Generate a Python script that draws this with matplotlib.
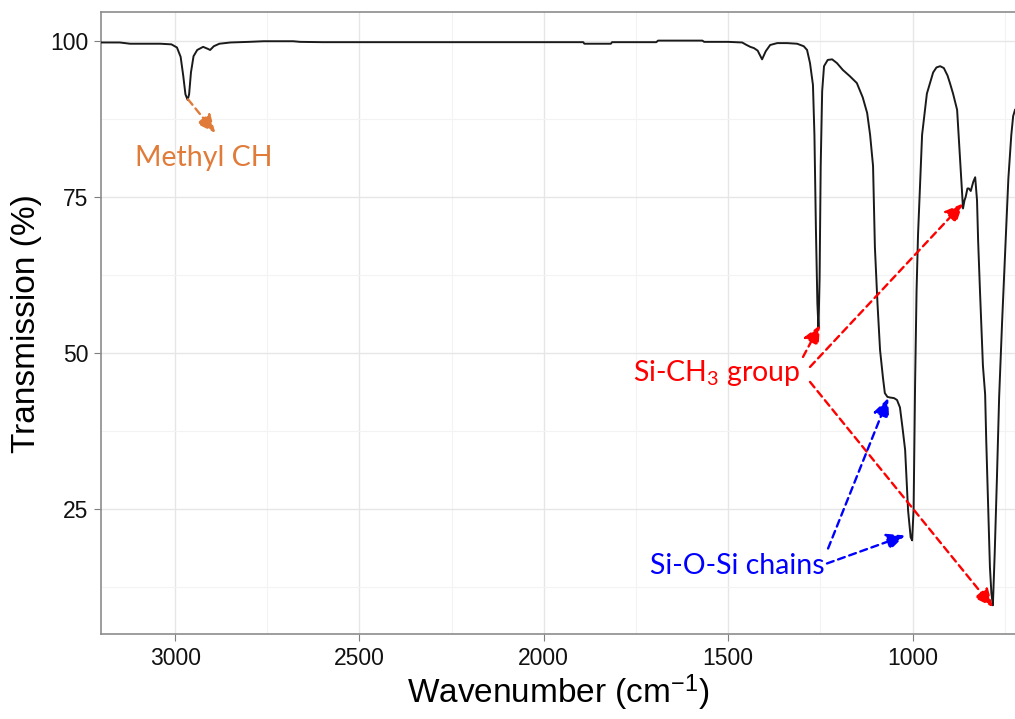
import matplotlib
matplotlib.use("Agg")
import matplotlib.pyplot as plt
from matplotlib.ticker import MultipleLocator

# FTIR spectrum
wavenumber = [3201, 3150, 3122, 3080, 3040, 3010, 2995, 2985, 2978, 2972, 2966,
              2962, 2957, 2950, 2940, 2924, 2912, 2905, 2895, 2880, 2850, 2800,
              2760, 2680, 2661, 2600, 2400, 2200, 2000, 1893, 1890, 1818, 1815,
              1760, 1695, 1690, 1570, 1565, 1500, 1462, 1450, 1440, 1430, 1420,
              1408, 1398, 1386, 1367, 1340, 1313, 1295, 1286, 1278, 1270, 1266,
              1262, 1258, 1255, 1252, 1249, 1245, 1240, 1230, 1218, 1205, 1189,
              1170, 1151, 1135, 1123, 1115, 1107, 1102, 1095, 1088, 1080, 1075,
              1068, 1061, 1050, 1042, 1034, 1027, 1020, 1012, 1005, 1001, 997,
              993, 989, 985, 974, 961, 944, 935, 925, 915, 905, 898, 890, 879,
              872, 866, 863, 859, 856, 851, 847, 842, 835, 830, 825, 822, 817,
              809, 803, 800, 796, 790, 786, 782, 777, 771, 765, 757, 749, 740,
              732, 727, 722]
transmission = [99.8, 99.8, 99.6, 99.6, 99.6, 99.5, 99.0, 97.5, 94.5, 91.5, 90.6,
                91.5, 95.0, 97.6, 98.6, 99.1, 98.8, 98.6, 99.2, 99.6, 99.8, 99.9,
                100.0, 100.0, 99.9, 99.85, 99.85, 99.85, 99.85, 99.85, 99.6, 99.6, 99.85,
                99.85, 99.85, 100.1, 100.1, 99.9, 99.9, 99.8, 99.4, 99.1, 98.9, 98.5,
                97.1, 98.4, 99.4, 99.7, 99.7, 99.6, 99.2, 98.6, 96.5, 93.0, 85.0,
                70.0, 58.0, 54.0, 62.0, 80.0, 92.0, 96.0, 97.0, 97.1, 96.5, 95.4,
                94.4, 93.3, 91.0, 88.5, 85.0, 80.0, 67.0, 58.0, 50.5, 46.0, 43.6,
                43.0, 42.9, 42.8, 42.5, 41.3, 38.0, 34.5, 24.8, 20.5, 20.0, 25.0,
                45.0, 60.0, 69.0, 85.0, 91.6, 95.0, 95.8, 96.0, 95.7, 94.5, 93.2,
                91.6, 89.0, 82.0, 76.0, 73.2, 74.5, 75.0, 76.4, 76.4, 76.0, 77.5,
                78.2, 74.5, 68.0, 60.0, 48.0, 43.4, 36.0, 28.0, 15.7, 11.5, 9.6,
                18.0, 30.0, 43.0, 55.0, 66.0, 78.0, 85.0, 88.0, 89.0]

x_ticks = [3000, 2500, 2000, 1500, 1000]
y_ticks = [25, 50, 75, 100]

plt.rcParams['font.family'] = ['Liberation Sans', 'DejaVu Sans']
plt.rcParams['mathtext.fontset'] = 'custom'
plt.rcParams['mathtext.rm'] = 'Lato'
plt.rcParams['mathtext.it'] = 'Lato'

fig = plt.figure(figsize=(10.15, 7.19), dpi=100)
ax = fig.add_axes([0.0995, 0.118, 0.9005, 0.865])

ax.plot(wavenumber, transmission, color='#1a1a1a', lw=1.4, zorder=3)

ax.set_xlim(3201, 722)
ax.set_ylim(4.97, 104.65)
ax.set_xticks(x_ticks)
ax.set_yticks(y_ticks)
ax.xaxis.set_minor_locator(MultipleLocator(250))
ax.yaxis.set_minor_locator(MultipleLocator(12.5))
ax.grid(which='major', color='#e6e6e6', lw=1.0, zorder=0)
ax.grid(which='minor', color='#f3f3f3', lw=0.8, zorder=0)
ax.tick_params(which='major', length=5, color='#7f7f7f', labelsize=16.5,
               labelcolor='#111111', pad=4)
ax.tick_params(which='minor', length=0)
for s in ['left', 'top', 'bottom']:
    ax.spines[s].set_color('#8c8c8c')
    ax.spines[s].set_linewidth(1.2)
ax.spines['right'].set_visible(False)

ax.set_xlabel('Wavenumber (cm$^{\\mathregular{-1}}$)', fontsize=24, labelpad=2)
ax.set_ylabel('Transmission (%)', fontsize=24, labelpad=6)

ann_font = 'Lato'
orange = '#e07b39'

def dashed_arrow(tail, head, color):
    ax.annotate('', xy=head, xytext=tail,
                arrowprops=dict(arrowstyle='-|>,head_length=1.1,head_width=0.5',
                                color=color, lw=1.7, linestyle=(0, (3, 2)),
                                shrinkA=0, shrinkB=0), zorder=4)

ax.text(2921, 81.3, 'Methyl CH', color=orange, fontsize=20.5, family=ann_font,
        ha='center', va='center')
dashed_arrow((2965, 90.7), (2891, 85.3), orange)

ax.text(1530, 46.9, 'Si-CH$_3$ group', color='#ff0000', fontsize=20.5,
        family=ann_font, ha='center', va='center')
dashed_arrow((1297, 49.4), (1251, 54.5), '#ff0000')
dashed_arrow((1278, 47.8), (863, 74.0), '#ff0000')
dashed_arrow((1278, 45.4), (782, 9.3), '#ff0000')

ax.text(1476, 15.9, 'Si-O-Si chains', color='#0000ff', fontsize=20.5,
        family=ann_font, ha='center', va='center')
dashed_arrow((1229, 18.7), (1066, 42.8), '#0000ff')
dashed_arrow((1232, 16.3), (1020, 20.8), '#0000ff')

fig.savefig('out.png', dpi=100)
